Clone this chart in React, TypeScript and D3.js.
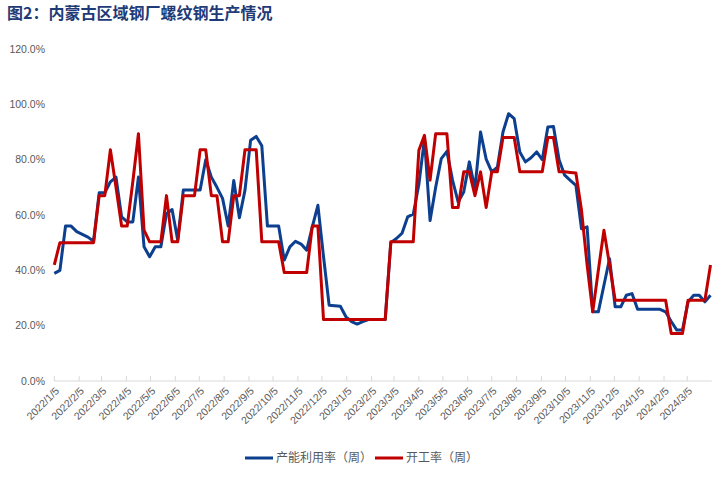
import { useEffect, useRef } from "react";
import * as d3 from "d3";

// 周度数据，起始 2022/1/5
const startDate = "2022/1/5";

const capacityRate = [
  38.9, 40, 56, 56, 54, 53, 52, 50.5, 68, 68, 72, 73.7, 59.3, 57.5, 57.5, 73.7,
  48.5, 44.9, 48.5, 48.5, 60.5, 62, 51, 69, 69, 69, 69, 80, 73.7, 70, 66, 56,
  72.5, 59, 69, 87, 88.4, 85, 56, 56, 56, 43.7, 48.5, 50.5, 49.5, 47.3, 55.7, 63.5,
  45, 27.4, 27.2, 27, 23.2, 21.5, 20.6, 21.5, 22.2, 22.2, 22.2, 22.2, 50, 51.5,
  53.4, 59.3, 60.3, 71, 87.6, 58, 70, 80.4, 83, 72.6, 64.7, 68.3, 79.2, 69.5,
  90, 80.2, 75.6, 77.3, 90, 96.6, 94.8, 82.8, 79.2, 80.7, 82.8, 80, 91.8, 92,
  80, 74.4, 72.5, 70.7, 55, 55.7, 25, 25, 34.6, 44.2, 26.8, 26.8, 31, 31.6,
  25.9, 25.9, 25.9, 25.9, 25.9, 25, 21.5, 18.4, 18.4, 28.6, 31, 31, 28.6, 31,
];

const operatingRate = [
  42, 50, 50, 50, 50, 50, 50, 50, 67, 67, 83.6, 70, 56, 56, 72, 89.4,
  54.5, 50.3, 50.3, 50.3, 67, 50.3, 50.3, 67, 67, 67, 83.6, 83.6, 67, 67, 50.3, 50.3,
  67, 67, 83.6, 83.6, 83.6, 50.3, 50.3, 50.3, 50.3, 39.2, 39.2, 39.2, 39.2, 39.2, 56, 56,
  22.2, 22.2, 22.2, 22.2, 22.2, 22.2, 22.2, 22.2, 22.2, 22.2, 22.2, 22.2, 50.3, 50.3,
  50.3, 50.3, 50.3, 83.4, 88.8, 72.6, 89.4, 89.4, 89.4, 62.7, 62.7, 75.6, 75.6, 67,
  75.6, 62.7, 75.6, 75.6, 88, 88, 88, 75.6, 75.6, 75.6, 75.6, 75.6, 88, 88,
  75.6, 75.6, 75.4, 75.2, 61.7, 42, 25, 40, 54.5, 42, 29.2, 29.2, 29.2, 29.2,
  29.2, 29.2, 29.2, 29.2, 29.2, 29.2, 17.2, 17.2, 17.2, 29.2, 29.2, 29.2, 29.2, 41.9,
];

const xTickLabels = [
  "2022/1/5", "2022/2/5", "2022/3/5", "2022/4/5", "2022/5/5", "2022/6/5",
  "2022/7/5", "2022/8/5", "2022/9/5", "2022/10/5", "2022/11/5", "2022/12/5",
  "2023/1/5", "2023/2/5", "2023/3/5", "2023/4/5", "2023/5/5", "2023/6/5",
  "2023/7/5", "2023/8/5", "2023/9/5", "2023/10/5", "2023/11/5", "2023/12/5",
  "2024/1/5", "2024/2/5", "2024/3/5",
];

const yTicks = [0, 20, 40, 60, 80, 100, 120];

const seriesNames = ["产能利用率（周）", "开工率（周）"];
const seriesColors = ["#0d3f8f", "#c00000"];

const W = 725;
const H = 478;
const FONT = "'Liberation Sans', 'Noto Sans CJK SC', sans-serif";

const App = () => {
  const svgRef = useRef(null);

  useEffect(() => {
    const svg = d3.select(svgRef.current);
    svg.selectAll("*").remove();

    const parse = d3.timeParse("%Y/%m/%d");
    const start = parse(startDate);
    const dates = capacityRate.map((_, i) => d3.timeDay.offset(start, 7 * i));

    const x = d3
      .scaleTime()
      .domain([dates[0], dates[dates.length - 1]])
      .range([54.3, 710.5]);
    const y = d3.scaleLinear().domain([0, 120]).range([381, 49]);

    // title
    svg
      .append("text")
      .attr("x", 7)
      .attr("y", 19)
      .attr("font-family", "'Noto Sans CJK SC', sans-serif")
      .attr("font-weight", "700")
      .attr("font-size", "16px")
      .attr("fill", "#1f3b77")
      .text("图2：内蒙古区域钢厂螺纹钢生产情况");

    // y axis labels
    svg
      .append("g")
      .selectAll("text")
      .data(yTicks)
      .join("text")
      .attr("x", 45)
      .attr("y", (d) => y(d))
      .attr("dy", "0.35em")
      .attr("text-anchor", "end")
      .attr("font-family", FONT)
      .attr("font-size", "10.5px")
      .attr("fill", "#595959")
      .text((d) => `${d.toFixed(1)}%`);

    // x axis
    const axis = svg.append("g");
    axis
      .append("line")
      .attr("x1", 54.3)
      .attr("x2", 711.7)
      .attr("y1", y(0))
      .attr("y2", y(0))
      .attr("stroke", "#d9d9d9")
      .attr("stroke-width", 1);

    const tickDates = xTickLabels.map((s) => parse(s));
    axis
      .selectAll(".tick")
      .data(tickDates)
      .join("line")
      .attr("class", "tick")
      .attr("x1", (d) => x(d))
      .attr("x2", (d) => x(d))
      .attr("y1", y(0) - 5)
      .attr("y2", y(0))
      .attr("stroke", "#d9d9d9");

    axis
      .selectAll(".lbl")
      .data(xTickLabels)
      .join("text")
      .attr("class", "lbl")
      .attr("transform", (d) => `translate(${x(parse(d)) + 3},${y(0) + 8}) rotate(-45)`)
      .attr("text-anchor", "end")
      .attr("dy", "0.35em")
      .attr("font-family", FONT)
      .attr("font-size", "10.5px")
      .attr("fill", "#595959")
      .text((d) => d);

    // lines
    const line = d3
      .line()
      .x((_, i) => x(dates[i]))
      .y((d) => y(d));

    [capacityRate, operatingRate].forEach((s, k) => {
      svg
        .append("path")
        .datum(s)
        .attr("fill", "none")
        .attr("stroke", seriesColors[k])
        .attr("stroke-width", 3)
        .attr("stroke-linejoin", "round")
        .attr("d", line);
    });

    // legend
    const legend = svg.append("g").attr("transform", "translate(245,458)");
    const offsets = [0, 130];
    seriesNames.forEach((name, k) => {
      const g = legend.append("g").attr("transform", `translate(${offsets[k]},0)`);
      g.append("line")
        .attr("x1", 0)
        .attr("x2", 28)
        .attr("stroke", seriesColors[k])
        .attr("stroke-width", 3);
      g.append("text")
        .attr("x", 31)
        .attr("dy", "0.35em")
        .attr("font-family", "'Noto Sans CJK SC', sans-serif")
        .attr("font-size", "12px")
        .attr("fill", "#595959")
        .text(name);
    });
  }, []);

  return (
    <svg
      ref={svgRef}
      width={W}
      height={H}
      style={{ position: "absolute", left: 0, top: 0, background: "#fff" }}
    />
  );
};

export default App;
